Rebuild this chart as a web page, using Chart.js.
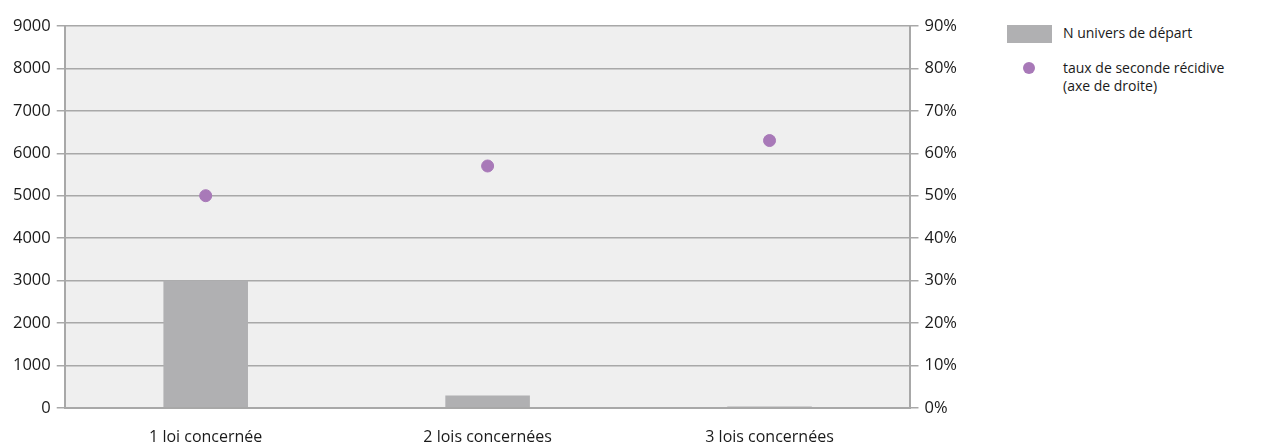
<!DOCTYPE html>
<html>
<head>
<meta charset="utf-8">
<script src="https://cdn.jsdelivr.net/npm/chart.js@4"></script>
<style>
  body { margin: 0; background: #fff; width: 1262px; height: 444px; position: relative; overflow: hidden; }
  #wrap { position: absolute; left: 0; top: 0; width: 963px; height: 459px; }
  #legend { position: absolute; left: 1007px; top: 24px; font-family: "Open Sans", sans-serif; font-size: 14px; color: #1a1a1a; line-height: 18px; }
  .row { position: relative; padding-left: 56px; margin-bottom: 17px; }
  .sw-bar { position: absolute; left: 0; top: 1px; width: 45px; height: 18px; background: #b0b0b2; }
  .sw-dot { position: absolute; left: 16px; top: 3px; width: 12px; height: 12px; border-radius: 50%; background: #a879b8; }
</style>
</head>
<body>
<div id="wrap"><canvas id="chart"></canvas></div>
<div id="legend">
  <div class="row"><span class="sw-bar"></span>N univers de départ</div>
  <div class="row"><span class="sw-dot"></span>taux de seconde récidive<br>(axe de droite)</div>
</div>
<script>
// categories and series
const categories = ['1 loi concernée', '2 lois concernées', '3 lois concernées'];
const nUnivers = [3000, 290, 30];
const tauxRecidive = [50, 57, 63];

const gridColor = '#a8a8a8';
const tickFont = { family: 'Open Sans', size: 16.5 };

// paint the plot background grey
const plotBg = {
    id: 'plotBg',
    beforeDraw(chart) {
        const { ctx, chartArea: a } = chart;
        ctx.save();
        ctx.fillStyle = '#efefef';
        ctx.fillRect(a.left, a.top, a.right - a.left, a.bottom - a.top);
        ctx.restore();
    }
};

new Chart(document.getElementById('chart'), {
    data: {
        labels: categories,
        datasets: [
            {
                type: 'scatter',
                label: 'taux de seconde récidive (axe de droite)',
                data: tauxRecidive,
                yAxisID: 'y1',
                backgroundColor: '#a879b8',
                borderColor: '#a879b8',
                pointRadius: 6,
                pointHoverRadius: 6,
                showLine: false
            },
            {
                type: 'bar',
                label: 'N univers de départ',
                data: nUnivers,
                yAxisID: 'y',
                backgroundColor: '#b0b0b2',
                barPercentage: 0.3,
                categoryPercentage: 1
            }
        ]
    },
    plugins: [plotBg],
    options: {
        responsive: true,
        maintainAspectRatio: false,
        animation: false,
        layout: { padding: { top: 26, left: 7, right: 0, bottom: 0 } },
        plugins: {
            legend: { display: false },
            tooltip: { enabled: false }
        },
        scales: {
            x: {
                type: 'category',
                offset: true,
                grid: { display: false },
                border: { display: true, color: gridColor, width: 2 },
                ticks: { color: '#1a1a1a', font: { family: 'Open Sans', size: 16 }, padding: 12, maxRotation: 0 }
            },
            y: {
                position: 'left',
                min: 0,
                max: 9000,
                ticks: { stepSize: 1000, color: '#1a1a1a', font: tickFont, padding: 6, callback: v => String(v) },
                grid: { color: gridColor, lineWidth: 1.5, tickLength: 8 },
                border: { color: gridColor, width: 2 }
            },
            y1: {
                position: 'right',
                min: 0,
                max: 90,
                ticks: { stepSize: 10, color: '#1a1a1a', font: tickFont, padding: 6, callback: v => v + '%' },
                grid: { drawOnChartArea: false, color: gridColor, lineWidth: 1.5, tickLength: 8 },
                border: { color: gridColor, width: 2 }
            }
        }
    }
});
</script>
</body>
</html>
